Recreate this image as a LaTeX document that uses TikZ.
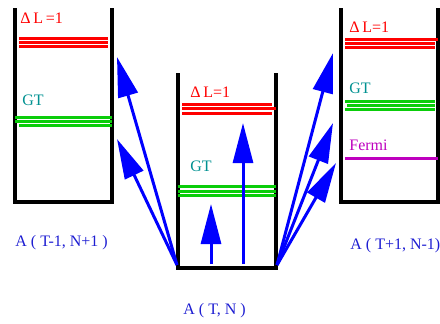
\documentclass[tikz,border=0pt]{standalone}
\usepackage{fontspec}
\setmainfont{Liberation Serif}
\usetikzlibrary{arrows.meta}

\definecolor{lvlred}{RGB}{255,0,0}
\definecolor{lvlgreen}{RGB}{10,205,10}
\definecolor{gtcol}{RGB}{0,145,145}
\definecolor{fermicol}{RGB}{190,0,190}
\definecolor{labcol}{RGB}{30,30,210}

\tikzset{
  wall/.style={black, line width=1.6pt},
  level/.style={line width=1.5pt},
  trans/.style={blue, line width=1.5pt, -{Triangle[length=20pt,width=10pt]}},
  lbl/.style={anchor=west, inner sep=0pt, font=\fontsize{8}{9}\selectfont},
}

\begin{document}
\begin{tikzpicture}[x=0.5pt, y=-0.5pt]
\useasboundingbox (0,0) rectangle (440,323);
% boxes
\draw[wall] (15,8)--(15,202)--(112,202)--(112,8);
\draw[wall] (178,73)--(178,268)--(276,268)--(276,73);
\draw[wall] (341,8)--(341,202)--(438,202)--(438,8);
% levels
\foreach \y/\xa/\xb in {38.8/19/108, 42.6/19/108, 46.5/19/108} {
 \draw[level, lvlred] (\xa,\y) -- (\xb,\y);
}
\foreach \y/\xa/\xb in {117/15/112, 121/15/112, 125/19/112} {
 \draw[level, lvlgreen] (\xa,\y) -- (\xb,\y);
}
\foreach \y/\xa/\xb in {104.3/182/272, 108.8/182/276, 113.3/182/272} {
 \draw[level, lvlred] (\xa,\y) -- (\xb,\y);
}
\foreach \y/\xa/\xb in {186.7/178/276, 191/178/276, 195.3/178/276} {
 \draw[level, lvlgreen] (\xa,\y) -- (\xb,\y);
}
\foreach \y/\xa/\xb in {39/345/438, 43.3/345/435, 47.7/345/435} {
 \draw[level, lvlred] (\xa,\y) -- (\xb,\y);
}
\foreach \y/\xa/\xb in {101/345/435, 105/347/435, 109/345/435} {
 \draw[level, lvlgreen] (\xa,\y) -- (\xb,\y);
}
\draw[level, fermicol] (345,158.3) -- (438,158.3);
% level labels
\node[lbl, text=lvlred] (dl-left) at (20,18) {Δ\,L\,=1};
\node[lbl, text=gtcol] (gt-left) at (22,100) {GT};
\node[lbl, text=lvlred] (dl-mid) at (190,92) {Δ\,L=1};
\node[lbl, text=gtcol] (gt-mid) at (190,166) {GT};
\node[lbl, text=lvlred] (dl-right) at (349,27) {Δ\,L=1};
\node[lbl, text=gtcol] (gt-right) at (349,88) {GT};
\node[lbl, text=fermicol] (fermi) at (349,145) {Fermi};
% nuclei
\node[lbl, text=labcol] (nuc-left) at (15,243) {A ( T-1, N+1 )};
\node[lbl, text=labcol] (nuc-mid) at (183,311) {A ( T, N )};
\node[lbl, text=labcol] (nuc-right) at (350,246) {A ( T+1, N-1)};
% transitions
\coordinate (src-l) at (177,265);
\coordinate (src-r) at (277,265);
\coordinate (src-a) at (211,264);
\coordinate (src-b) at (243,264);
\coordinate (tip-l1) at (117,57);
\coordinate (tip-l2) at (117,139);
\coordinate (tip-a) at (211,204);
\coordinate (tip-b) at (243,123);
\coordinate (tip-r1) at (333,53);
\coordinate (tip-r2) at (333,123);
\coordinate (tip-r3) at (336,163);
\foreach \t in {l1,l2} {
 \draw[trans] (src-l) -- (tip-\t);
}
\foreach \t in {r1,r2,r3} {
 \draw[trans] (src-r) -- (tip-\t);
}
\draw[trans] (src-a) -- (tip-a);
\draw[trans] (src-b) -- (tip-b);
\end{tikzpicture}
\end{document}
